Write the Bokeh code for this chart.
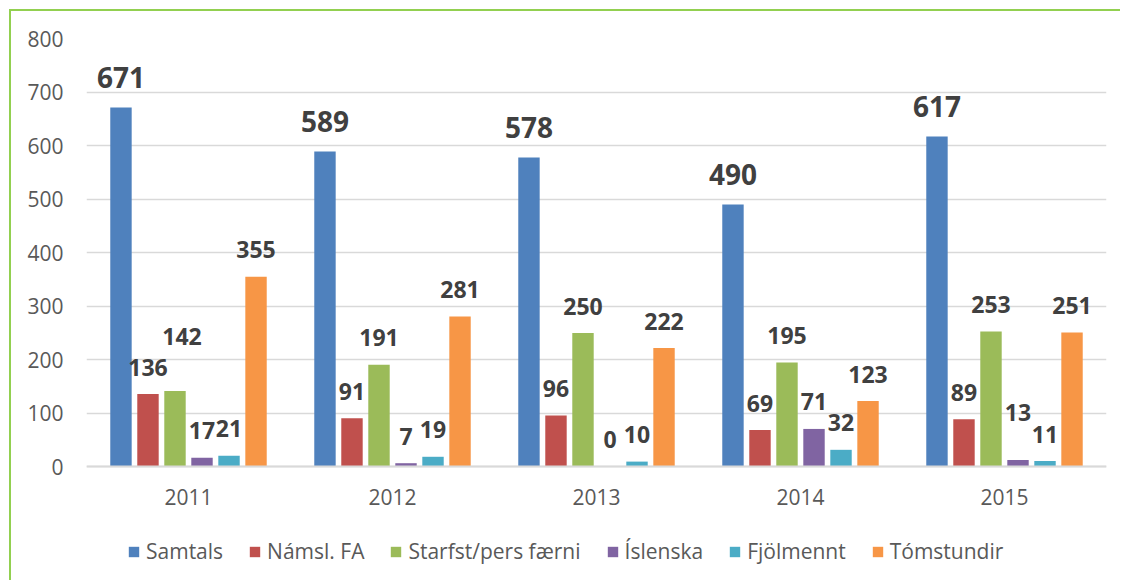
from bokeh.plotting import figure
from bokeh.models import FactorRange, Range1d, ColumnDataSource, Legend, LegendItem
from bokeh.transform import dodge
from bokeh.core.properties import value
from bokeh.embed import file_html
from bokeh.resources import INLINE

# ---- data ----
years = ["2011", "2012", "2013", "2014", "2015"]
series_names = ["Samtals", "Námsl. FA", "Starfst/pers færni", "Íslenska", "Fjölmennt", "Tómstundir"]
samtals = [671, 589, 578, 490, 617]
namsl_fa = [136, 91, 96, 69, 89]
starfst = [142, 191, 250, 195, 253]
islenska = [17, 7, 0, 71, 13]
fjolmennt = [21, 19, 10, 32, 11]
tomstundir = [355, 281, 222, 123, 251]
y_ticks = [0, 100, 200, 300, 400, 500, 600, 700, 800]

series_values = [samtals, namsl_fa, starfst, islenska, fjolmennt, tomstundir]
colors = ["#4F81BD", "#C0504D", "#9BBB59", "#8064A2", "#4BACC6", "#F79646"]

# manual label nudges (pixels) seen in the reference
label_nudge = {
    ("Starfst/pers færni", "2011"): (7, -27),
    ("Íslenska", "2015"): (0, -20),
}

FONT = "Open Sans"

# the frame extends below zero so that the category labels and legend live inside it
p = figure(
    x_range=FactorRange(factors=years, range_padding=0),
    y_range=Range1d(-212, 800),
    frame_width=1020, frame_height=542,
    min_border_left=75, min_border_right=14, min_border_top=27, min_border_bottom=0,
    output_backend="svg", toolbar_location=None,
)
p.styles = {"border-left": "2px solid #92D050", "border-top": "2px solid #92D050",
            "margin-left": "9px", "margin-top": "9px"}
p.outline_line_color = None
p.background_fill_color = "white"
p.border_fill_color = "white"

p.xgrid.grid_line_color = None
p.ygrid.grid_line_color = "#D9D9D9"
p.ygrid.grid_line_width = 1.5

p.yaxis.ticker = y_ticks
p.yaxis.axis_line_color = None
p.yaxis.major_tick_line_color = None
p.yaxis.minor_tick_line_color = None
p.yaxis.major_label_standoff = 17
p.yaxis.major_label_text_font = FONT
p.yaxis.major_label_text_font_size = "21px"
p.yaxis.major_label_text_color = "#595959"

p.xaxis.fixed_location = 0
p.xaxis.axis_line_color = "#D9D9D9"
p.xaxis.axis_line_width = 2
p.xaxis.major_tick_line_color = None
p.xaxis.minor_tick_line_color = None
p.xaxis.major_label_standoff = 16
p.xaxis.major_label_text_font = FONT
p.xaxis.major_label_text_font_size = "21px"
p.xaxis.major_label_text_color = "#595959"

stride = 0.1324
bar_w = 0.105
items = []
for i, (name, vals, col) in enumerate(zip(series_names, series_values, colors)):
    off = (i - 2.5) * stride
    base_dy = -30 if i == 0 else -27
    dx = []
    dy = []
    for yr in years:
        nx, ny = label_nudge.get((name, yr), (0, 0))
        dx.append(nx)
        dy.append(base_dy + ny)
    src = ColumnDataSource(dict(x=years, top=vals, label=[str(v) for v in vals], dx=dx, dy=dy))
    r = p.vbar(x=dodge("x", off, range=p.x_range), top="top", width=bar_w, source=src,
               fill_color=col, line_color=None)
    p.text(x=dodge("x", off, range=p.x_range), y="top", text="label", source=src,
           x_offset="dx", y_offset="dy",
           text_align="center", text_baseline="middle",
           text_font=value(FONT), text_font_style="bold",
           text_font_size="28px" if i == 0 else "23px", text_color="#404040")
    items.append(LegendItem(label=name, renderers=[r]))

legend = Legend(items=items, orientation="horizontal", location=(41, 15),
                padding=0, margin=0, spacing=25,
                glyph_width=13, glyph_height=13, label_standoff=6,
                label_text_font=FONT, label_text_font_size="21px", label_text_color="#595959",
                border_line_color=None, background_fill_alpha=0)
p.add_layout(legend)

open("out.html", "w").write(file_html(p, INLINE))
